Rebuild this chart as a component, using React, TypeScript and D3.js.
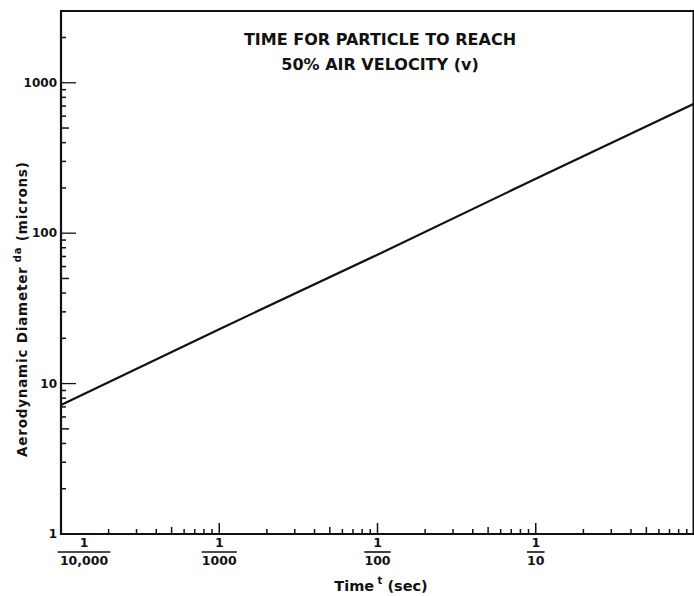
import React, { useEffect, useRef } from "react";
import * as d3 from "d3";

// time to reach 50% of air velocity (sec) vs aerodynamic diameter (microns)
const times = [1e-4, 1e-3, 1e-2, 1e-1, 1];
const diameters = [7.2, 23, 72, 230, 725];

const yTickValues = [1, 10, 100, 1000];
const yTickLabels = ["1", "10", "100", "1000"];
const xTickValues = [1e-4, 1e-3, 1e-2, 1e-1];
const xTickDenoms = ["10,000", "1000", "100", "10"];
// the 1/10,000 label sits a bit right of its tick in the original
const xLabelShift = [23, 0, 0, 0];

const titleLines = ["TIME FOR PARTICLE TO REACH", "50% AIR VELOCITY (v)"];

const W = 694;
const H = 596;

export default function App() {
  const ref = useRef<SVGSVGElement>(null);

  useEffect(() => {
    const svg = d3.select(ref.current);
    svg.selectAll("*").remove();
    const font = "'DejaVu Sans', sans-serif";
    const ink = "#111";

    const left = 61, right = 694, top = 11, bottom = 534;
    const x = d3.scaleLog().domain([1e-4, 1]).range([left, right]);
    const y = d3.scaleLog().domain([1, 3000]).range([bottom, top]);
    const mant = (d: number) => Math.round(d / Math.pow(10, Math.floor(Math.log10(d) + 1e-9)));

    // frame
    svg.append("line").attr("x1", right - 0.75).attr("x2", right - 0.75)
      .attr("y1", top).attr("y2", bottom).attr("stroke", ink).attr("stroke-width", 1.5);
    svg.append("line").attr("x1", left).attr("x2", right)
      .attr("y1", top).attr("y2", top).attr("stroke", ink).attr("stroke-width", 1.8);
    svg.append("line").attr("x1", left).attr("x2", left)
      .attr("y1", top - 1).attr("y2", bottom + 1).attr("stroke", ink).attr("stroke-width", 2.2);
    svg.append("line").attr("x1", left - 1).attr("x2", right)
      .attr("y1", bottom).attr("y2", bottom).attr("stroke", ink).attr("stroke-width", 1.8);

    // y ticks (pointing inward)
    const yMinor: number[] = [];
    for (let p = 0; p < 4; p++) for (let k = 2; k <= 9; k++) yMinor.push(k * Math.pow(10, p));
    svg.append("g").selectAll("line").data(yMinor.filter((v) => v <= 3000)).enter().append("line")
      .attr("x1", left).attr("x2", (d) => left + (mant(d) === 5 ? 8 : 5))
      .attr("y1", (d) => y(d)).attr("y2", (d) => y(d))
      .attr("stroke", ink).attr("stroke-width", 1.5);
    svg.append("g").selectAll("line").data(yTickValues).enter().append("line")
      .attr("x1", left).attr("x2", left + 15)
      .attr("y1", (d) => y(d)).attr("y2", (d) => y(d))
      .attr("stroke", ink).attr("stroke-width", 1.3);
    svg.append("g").selectAll("text").data(yTickValues).enter().append("text")
      .attr("x", left - 4).attr("y", (d) => y(d) + 4)
      .attr("text-anchor", "end").attr("font-family", font).attr("font-size", 12)
      .attr("font-weight", "bold").attr("fill", ink)
      .text((d, i) => yTickLabels[i]);

    // x ticks (pointing up)
    const xMinor: number[] = [];
    for (let p = -4; p < 0; p++) for (let k = 2; k <= 9; k++) xMinor.push(k * Math.pow(10, p));
    svg.append("g").selectAll("line").data(xMinor).enter().append("line")
      .attr("x1", (d) => x(d)).attr("x2", (d) => x(d))
      .attr("y1", bottom).attr("y2", (d) => bottom - (mant(d) === 5 ? 7 : 5))
      .attr("stroke", ink).attr("stroke-width", 1.5);
    svg.append("g").selectAll("line").data(xTickValues.slice(1)).enter().append("line")
      .attr("x1", (d) => x(d)).attr("x2", (d) => x(d))
      .attr("y1", bottom).attr("y2", bottom - 11)
      .attr("stroke", ink).attr("stroke-width", 1.5);

    // fraction labels 1/n
    const xl = svg.append("g").selectAll("g").data(xTickValues).enter().append("g")
      .attr("transform", (d, i) => `translate(${x(d) + xLabelShift[i]},0)`);
    xl.append("text").attr("y", 547).attr("text-anchor", "middle")
      .attr("font-family", font).attr("font-size", 12.5).attr("font-weight", "bold").attr("fill", ink)
      .text("1");
    xl.append("text").attr("y", 565).attr("text-anchor", "middle")
      .attr("font-family", font).attr("font-size", 12.5).attr("font-weight", "bold").attr("fill", ink)
      .text((d, i) => xTickDenoms[i]);
    xl.append("line")
      .attr("x1", (d, i) => -xTickDenoms[i].length * 4.4).attr("x2", (d, i) => xTickDenoms[i].length * 4.4)
      .attr("y1", 552).attr("y2", 552).attr("stroke", ink).attr("stroke-width", 1.6);

    // curve
    const pts = times.map((t, i) => [t, diameters[i]] as [number, number]);
    svg.append("path").datum(pts)
      .attr("d", d3.line<[number, number]>().x((d) => x(d[0])).y((d) => y(d[1])))
      .attr("fill", "none").attr("stroke", ink).attr("stroke-width", 2.2);

    // title
    svg.append("g").selectAll("text").data(titleLines).enter().append("text")
      .attr("x", 380).attr("y", (d, i) => 45 + i * 25).attr("text-anchor", "middle")
      .attr("font-family", font).attr("font-size", 16).attr("font-weight", "bold").attr("fill", ink)
      .text((d) => d);

    // axis titles
    const xt = svg.append("text").attr("x", 381).attr("y", 591).attr("text-anchor", "middle")
      .attr("font-family", font).attr("font-size", 14.5).attr("font-weight", "bold").attr("fill", ink);
    xt.append("tspan").text("Time");
    xt.append("tspan").attr("dy", -7).attr("font-size", 10).text(" t");
    xt.append("tspan").attr("dy", 7).text(" (sec)");

    const yt = svg.append("text").attr("transform", "translate(27,457) rotate(-90)").attr("text-anchor", "start")
      .attr("font-family", font).attr("font-size", 13.5).attr("font-weight", "bold").attr("fill", ink)
      .attr("letter-spacing", 0.8);
    yt.append("tspan").text("Aerodynamic Diameter");
    yt.append("tspan").attr("dy", -6).attr("font-size", 10).text(" da");
    yt.append("tspan").attr("dy", 6).text(" (microns)");
  }, []);

  return (
    <div style={{ position: "absolute", left: 0, top: 0, background: "#fff" }}>
      <svg ref={ref} width={W} height={H} style={{ display: "block" }}></svg>
    </div>
  );
}
